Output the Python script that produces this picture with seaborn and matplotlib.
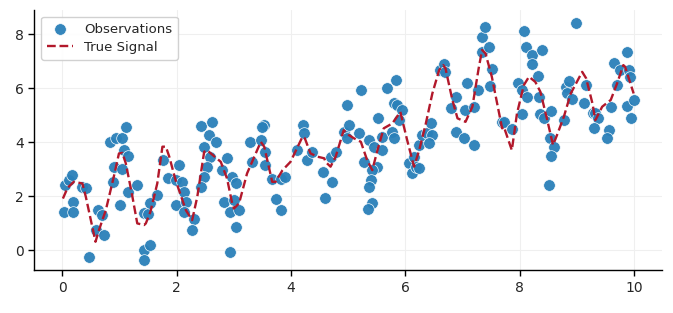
import matplotlib
matplotlib.use("Agg")
import matplotlib.pyplot as plt
import seaborn as sns
import pandas as pd

obs_x = [0.03, 0.04, 0.12, 0.17, 0.19, 0.19, 0.35, 0.41, 0.47, 0.58, 0.62, 0.73, 0.70,
         0.84, 0.93, 1.05, 1.11, 1.08, 1.14, 0.90, 1.05, 0.89, 1.14, 1.31, 1.00, 1.43,
         1.43, 1.53, 1.43, 1.49, 1.54, 1.66, 1.76, 1.84, 2.04, 1.98, 2.10, 2.13, 1.98,
         2.16, 2.13, 2.30, 2.27, 2.42, 2.62, 2.56, 2.68, 2.48, 2.59, 2.53, 2.48, 2.42,
         2.80, 2.88, 2.83, 2.97, 2.94, 2.94, 3.03, 3.00, 3.09, 3.03, 3.29, 3.32, 3.47,
         3.53, 3.50, 3.55, 3.55, 3.67, 3.82, 3.90, 3.73, 3.82, 4.11, 4.20, 4.22, 4.28,
         4.37, 4.55, 4.60, 4.71, 4.69, 4.78, 4.92, 5.01, 4.98, 4.98, 5.19, 5.23, 5.36,
         5.27, 5.45, 5.51, 5.42, 5.39, 5.36, 5.42, 5.35, 5.52, 5.59, 5.59, 5.68, 5.77,
         5.80, 5.83, 5.80, 5.86, 5.94, 5.89, 6.06, 6.12, 6.15, 6.18, 6.24, 6.24, 6.29,
         6.38, 6.44, 6.47, 6.41, 6.61, 6.67, 6.70, 6.88, 6.79, 6.88, 7.04, 7.08, 7.03,
         7.20, 7.20, 7.26, 7.34, 7.34, 7.39, 7.46, 7.51, 7.47, 7.68, 7.72, 7.87, 7.97,
         8.04, 8.04, 8.07, 8.11, 8.22, 8.22, 8.38, 8.32, 8.13, 8.33, 8.36, 8.42, 8.54,
         8.53, 8.59, 8.54, 8.51, 8.77, 8.80, 8.86, 8.83, 8.92, 8.98, 9.12, 9.15, 9.28,
         9.32, 9.36, 9.30, 9.56, 9.53, 9.60, 9.70, 9.65, 9.76, 9.87, 9.91, 9.92, 9.88,
         9.99, 9.94]
obs_y = [1.40, 2.40, 2.60, 2.80, 1.80, 1.42, 2.35, 2.30, -0.25, 0.74, 1.48, 0.56, 1.30,
         4.00, 4.15, 4.15, 4.57, 3.70, 3.50, 3.08, 3.00, 2.53, 2.16, 2.40, 1.67, 1.37,
         0.00, 0.19, -0.35, 1.33, 1.73, 2.04, 3.33, 2.67, 3.15, 2.60, 2.53, 2.16, 1.67,
         1.80, 1.42, 1.17, 0.74, 4.60, 4.75, 4.26, 4.00, 3.83, 3.46, 3.09, 2.70, 2.35,
         2.96, 3.40, 1.80, 2.70, 1.42, -0.06, 2.48, 1.85, 1.50, 0.86, 4.00, 3.27, 4.07,
         4.63, 4.55, 3.64, 3.15, 2.65, 2.65, 2.72, 1.91, 1.48, 3.70, 4.63, 4.35, 3.33,
         3.64, 2.90, 1.93, 2.53, 3.46, 3.64, 4.38, 4.63, 4.14, 5.37, 4.32, 5.93, 4.07,
         3.27, 3.83, 3.09, 2.96, 2.59, 2.35, 1.73, 1.54, 4.88, 4.20, 3.70, 5.99, 4.38,
         4.14, 6.30, 5.43, 5.37, 5.19, 4.81, 3.21, 2.84, 3.46, 3.09, 3.03, 3.89, 4.26,
         4.32, 4.69, 4.26, 3.95, 6.67, 6.90, 6.60, 5.68, 5.25, 4.38, 5.19, 6.17, 4.14,
         5.31, 3.89, 5.93, 7.34, 7.90, 8.27, 7.53, 6.69, 6.07, 4.75, 4.75, 4.48, 6.20,
         5.93, 5.04, 8.12, 7.51, 7.22, 6.89, 7.41, 6.44, 5.66, 5.66, 5.04, 4.88, 5.16,
         4.17, 3.83, 3.48, 2.41, 4.81, 6.05, 6.27, 5.80, 5.58, 8.40, 5.43, 6.11, 5.06,
         5.06, 4.88, 4.51, 4.44, 4.14, 5.31, 6.11, 6.91, 6.67, 7.34, 6.67, 6.42, 5.33,
         5.56, 4.91]

sig_x = [0.01, 0.09, 0.20, 0.35, 0.41, 0.58, 0.64, 0.76, 0.90, 0.99, 1.05, 1.11, 1.22,
         1.31, 1.43, 1.46, 1.54, 1.66, 1.75, 1.81, 1.87, 1.98, 2.16, 2.27, 2.36, 2.48,
         2.53, 2.77, 2.88, 2.97, 3.00, 3.09, 3.23, 3.47, 3.53, 3.61, 3.67, 3.73, 3.85,
         3.99, 4.20, 4.24, 4.34, 4.46, 4.58, 4.60, 4.69, 4.78, 4.92, 5.01, 5.10, 5.22,
         5.33, 5.42, 5.51, 5.62, 5.77, 5.91, 6.03, 6.15, 6.24, 6.35, 6.47, 6.59, 6.66,
         6.70, 6.82, 6.91, 7.05, 7.17, 7.28, 7.34, 7.40, 7.51, 7.69, 7.72, 7.86, 7.95,
         8.07, 8.16, 8.27, 8.36, 8.48, 8.58, 8.65, 8.77, 8.89, 9.09, 9.16, 9.27, 9.32,
         9.44, 9.59, 9.70, 9.81, 9.84, 9.99]
sig_y = [1.91, 2.30, 2.53, 2.47, 1.98, 0.31, 0.74, 1.48, 2.72, 3.58, 3.60, 3.21, 2.04,
         0.99, 0.93, 0.99, 1.42, 2.47, 3.83, 3.83, 3.46, 2.59, 1.48, 1.11, 1.98, 3.64,
         3.70, 3.27, 2.65, 1.73, 1.54, 1.73, 2.84, 4.01, 3.83, 3.09, 2.53, 2.53, 2.96,
         3.27, 4.20, 4.14, 3.58, 3.46, 3.40, 3.27, 3.09, 3.46, 4.44, 4.26, 4.14, 4.01,
         3.33, 2.96, 3.70, 4.51, 4.69, 5.12, 4.07, 3.09, 3.70, 4.63, 5.80, 6.67, 6.85,
         6.73, 5.56, 4.88, 4.75, 5.31, 6.73, 7.41, 7.28, 6.42, 4.51, 4.57, 3.70, 5.06,
         6.11, 6.42, 6.23, 5.86, 4.81, 3.89, 4.26, 4.94, 5.80, 6.60, 6.36, 5.43, 4.81,
         5.31, 5.56, 6.17, 6.85, 6.79, 5.80]

obs = pd.DataFrame({"x": obs_x, "y": obs_y})
sig = pd.DataFrame({"x": sig_x, "y": sig_y})

sns.set_style("whitegrid", {"grid.color": "#efefef", "axes.edgecolor": "black",
                            "xtick.bottom": True, "ytick.left": True})
plt.rcParams["font.family"] = ["DejaVu Sans"]

fig = plt.figure(figsize=(6.73, 3.13), dpi=100)
ax = fig.add_axes([0.051, 0.137, 0.933, 0.831])

sns.scatterplot(data=obs, x="x", y="y", ax=ax, color="#2a80b9", s=70,
                edgecolor="white", linewidth=0.5, alpha=0.95, label="Observations", zorder=2)
sns.lineplot(data=sig, x="x", y="y", ax=ax, color="#b2182b", linestyle="--",
             linewidth=1.7, label="True Signal", sort=False, zorder=3)

ax.set_xlim(-0.49, 10.49)
ax.set_ylim(-0.74, 8.89)
ax.set_xticks([0, 2, 4, 6, 8, 10])
ax.set_yticks([0, 2, 4, 6, 8])
ax.set_xlabel("")
ax.set_ylabel("")
ax.tick_params(labelsize=10, length=4, width=1, color="black")
for s in ["left", "bottom"]:
    ax.spines[s].set_linewidth(1.0)
sns.despine(ax=ax)

ax.legend(loc="upper left", fontsize=9.5, frameon=True, framealpha=0.9,
          labelspacing=0.4, borderpad=0.45, handlelength=2.0, handletextpad=0.8)

fig.savefig("out.png", dpi=100)
